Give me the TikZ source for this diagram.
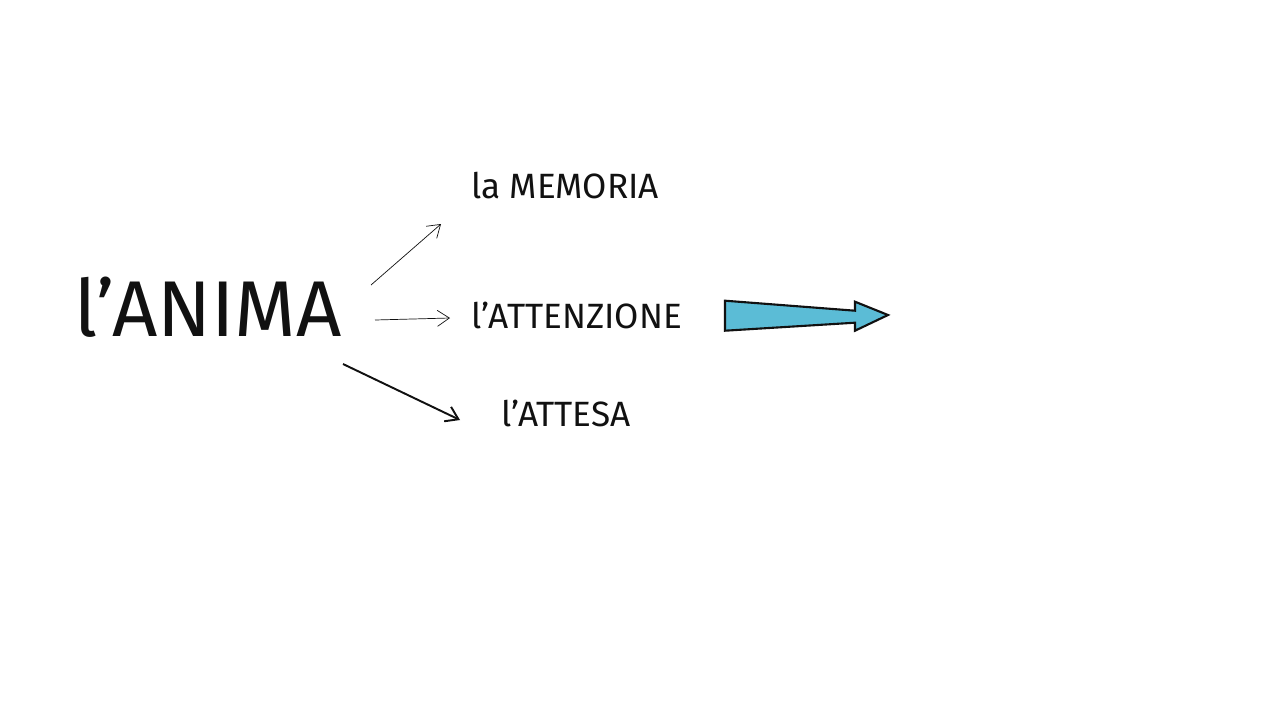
\documentclass[tikz,border=0pt]{standalone}
\usepackage{fontspec}
\setmainfont{Fira Sans}
\usetikzlibrary{arrows.meta, positioning, calc}
\definecolor{inkBlack}{HTML}{111111}
\definecolor{arrowBlue}{HTML}{5BBCD6}

\begin{document}
\begin{tikzpicture}[x=0.02cm, y=-0.02cm,
    lbl/.style={font=\fontsize{20}{24}\selectfont, text=inkBlack, inner sep=0pt},
    link/.style={draw=inkBlack, -{Straight Barb[length=2.4mm, width=3.2mm]}}]
  \useasboundingbox (0,0) rectangle (1280,720);
  % main word
  \node[font=\fontsize{45}{50}\selectfont, text=inkBlack, inner sep=0pt] (anima) at (208,307) {l'ANIMA};
  % branches
  \node[lbl] (memoria) at (565,186) {la MEMORIA};
  \node[lbl] (attenzione) at (577,315) {l'ATTENZIONE};
  \node[lbl] (attesa) at (566,413) {l'ATTESA};
  \coordinate (a1) at (371,285);
  \coordinate (a2) at (375,320);
  \coordinate (a3) at (343,364);
  \coordinate (b1) at (441,224);
  \coordinate (b2) at (450,318);
  \coordinate (b3) at (460,420);
  \draw[link, thin] (a1) -- (b1);
  \draw[link, thin] (a2) -- (b2);
  \draw[link, line width=1.1pt] (a3) -- (b3);
  % big blue arrow
  \draw[inkBlack, line width=1.2pt, fill=arrowBlue, line join=miter]
    (725,300.7) -- (855,310.7) -- (855,301.7) -- (888,315) -- (855,330.7) -- (855,322.7) -- (725,330.7) -- cycle;
\end{tikzpicture}
\end{document}
